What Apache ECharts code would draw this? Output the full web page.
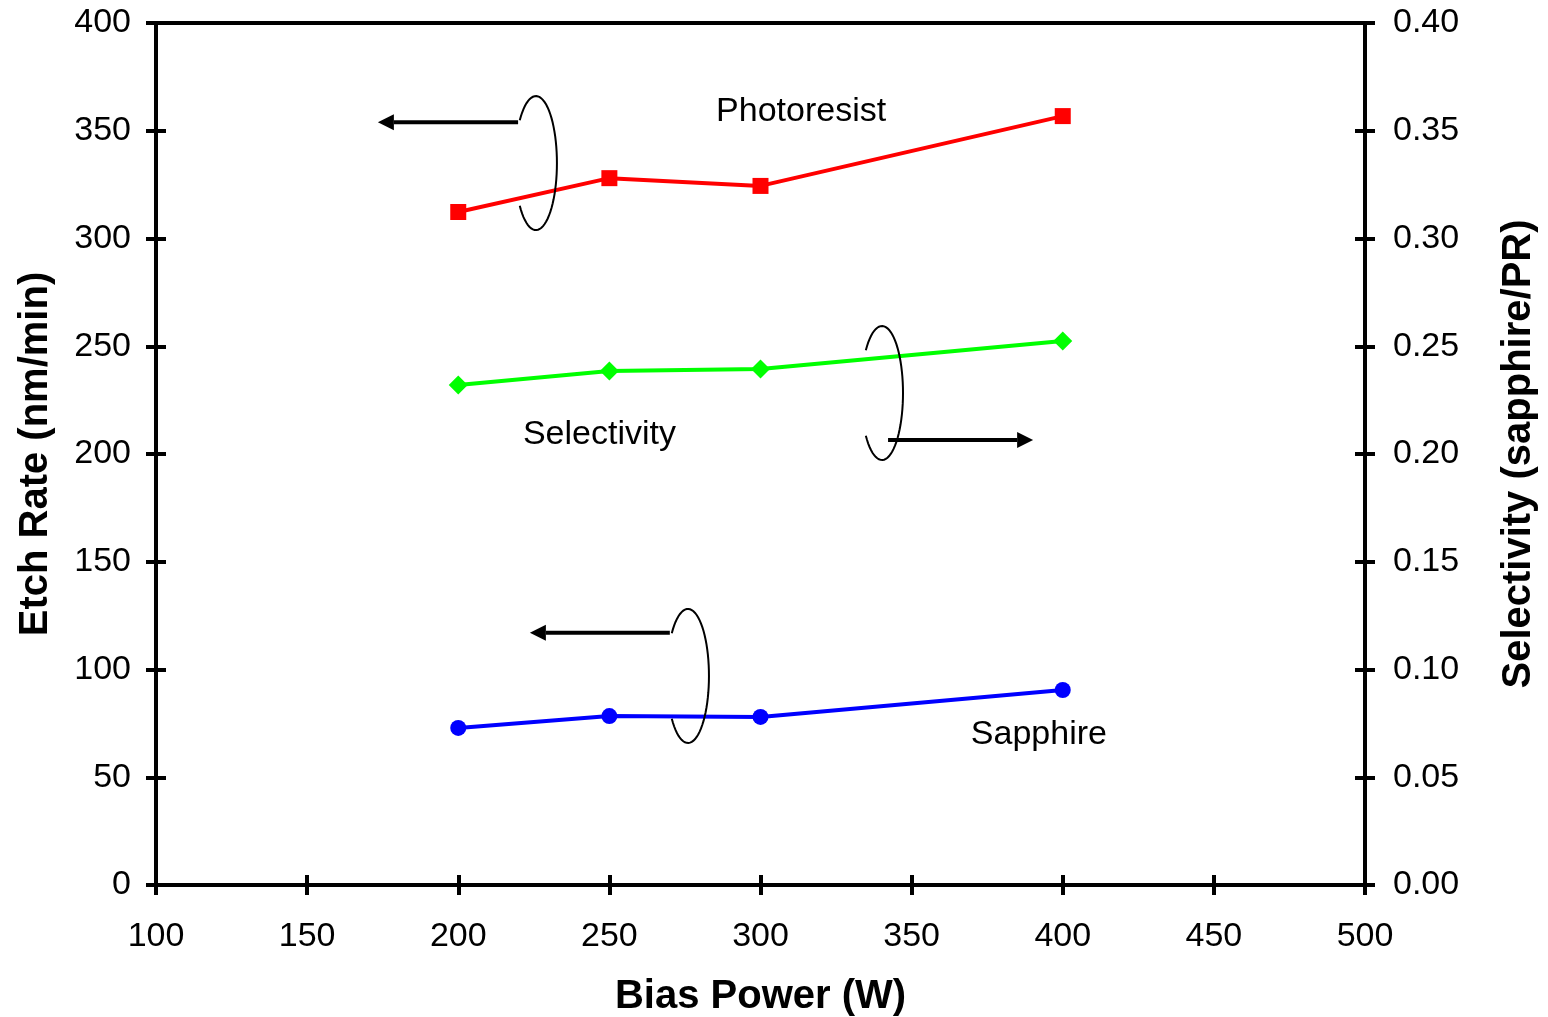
<!DOCTYPE html>
<html>
<head>
<meta charset="utf-8">
<script src="https://cdn.jsdelivr.net/npm/echarts@6/dist/echarts.min.js"></script>
<style>
  html, body { margin: 0; padding: 0; background: #fff; }
  #chart { width: 1548px; height: 1017px; }
</style>
</head>
<body>
<div id="chart"></div>
<script>
// bias power (W)
var biasPower = [200, 250, 300, 400];
// etch rates (nm/min), left axis
var photoresist = [312.3, 328.0, 324.4, 356.8];
var sapphire = [72.9, 78.4, 78.0, 90.5];
// selectivity (sapphire/PR), right axis
var selectivity = [0.232, 0.2385, 0.2394, 0.2524];

// annotations (data units of the left axis)
var labelTexts = ['Photoresist', 'Selectivity', 'Sapphire'];
var labelPos = [[285.3, 358.7], [221.4, 208.8], [369.6, 69.6]];
var bracketCenters = [[225.7, 335], [340.2, 228.3], [276, 97]];
var arrowFrom = [[219.8, 354], [342.2, 206.5], [270, 117]];
var arrowTo = [[173.4, 354], [390.2, 206.5], [223.7, 117]];

var FONT = '"Liberation Sans", Arial, sans-serif';

function pairs(xs, ys) {
    return xs.map(function (x, i) { return [x, ys[i]]; });
}

var chart = echarts.init(document.getElementById('chart'));

function renderNote(params, api) {
    var i = params.dataIndex;
    var c = api.coord(bracketCenters[i]);
    var rx = 21, ry = 67;
    var pts = [];
    for (var k = 0; k <= 60; k++) {
        var t = -2.45 + 4.9 * k / 60;
        pts.push([c[0] + rx * Math.cos(t), c[1] + ry * Math.sin(t)]);
    }
    var a = api.coord(arrowFrom[i]);
    var b = api.coord(arrowTo[i]);
    var dir = b[0] > a[0] ? 1 : -1;
    var head = 16, half = 8;
    var lp = api.coord(labelPos[i]);
    return {
        type: 'group',
        children: [
            { type: 'polyline', shape: { points: pts }, style: { stroke: '#000', lineWidth: 2, fill: null } },
            { type: 'line', shape: { x1: a[0], y1: a[1], x2: b[0] - dir * head, y2: b[1] }, style: { stroke: '#000', lineWidth: 4 } },
            { type: 'polygon', shape: { points: [[b[0], b[1]], [b[0] - dir * head, b[1] - half], [b[0] - dir * head, b[1] + half]] }, style: { fill: '#000' } },
            { type: 'text', style: { text: labelTexts[i], x: lp[0], y: lp[1], fill: '#000', font: '34px ' + FONT, align: 'left', verticalAlign: 'middle' } }
        ]
    };
}

var option = {
    animation: false,
    backgroundColor: '#fff',
    textStyle: { fontFamily: FONT },
    grid: {
        left: 156, right: 183, top: 23, bottom: 132,
        outerBoundsMode: 'none', containLabel: false,
        show: true, borderColor: '#000', borderWidth: 4, backgroundColor: 'transparent'
    },
    xAxis: [{
        type: 'value', min: 100, max: 500, interval: 50,
        name: 'Bias Power (W)', nameLocation: 'middle', nameGap: 92,
        nameTextStyle: { fontSize: 40, fontWeight: 'bold', color: '#000', fontFamily: FONT },
        axisLine: { lineStyle: { color: '#000', width: 4 } },
        axisTick: { length: 10, lineStyle: { color: '#000', width: 4 } },
        axisLabel: { fontSize: 34, color: '#000', margin: 35, fontFamily: FONT },
        splitLine: { show: false }
    }, {
        type: 'value', min: 100, max: 500, interval: 50, position: 'bottom',
        axisLine: { show: false },
        axisTick: { inside: true, length: 10, lineStyle: { color: '#000', width: 4 } },
        axisLabel: { show: false }, splitLine: { show: false }
    }],
    yAxis: [{
        type: 'value', min: 0, max: 400, interval: 50, position: 'left',
        name: 'Etch Rate (nm/min)', nameLocation: 'middle', nameGap: 100,
        nameTextStyle: { fontSize: 40, fontWeight: 'bold', color: '#000', fontFamily: FONT },
        axisLine: { show: true, lineStyle: { color: '#000', width: 4 } },
        axisTick: { length: 10, lineStyle: { color: '#000', width: 4 } },
        axisLabel: { fontSize: 34, color: '#000', margin: 25, fontFamily: FONT },
        splitLine: { show: false }
    }, {
        type: 'value', min: 0, max: 0.4, interval: 0.05, position: 'right',
        name: 'Selectivity (sapphire/PR)', nameLocation: 'middle', nameGap: 134, nameRotate: 90,
        nameTextStyle: { fontSize: 40, fontWeight: 'bold', color: '#000', fontFamily: FONT },
        axisLine: { show: true, lineStyle: { color: '#000', width: 4 } },
        axisTick: { length: 10, lineStyle: { color: '#000', width: 4 } },
        axisLabel: { fontSize: 34, color: '#000', margin: 28, fontFamily: FONT,
            formatter: function (v) { return v.toFixed(2); } },
        splitLine: { show: false }
    }, {
        type: 'value', min: 0, max: 400, interval: 50, position: 'left',
        axisLine: { show: false },
        axisTick: { inside: true, length: 10, lineStyle: { color: '#000', width: 4 } },
        axisLabel: { show: false }, splitLine: { show: false }
    }, {
        type: 'value', min: 0, max: 0.4, interval: 0.05, position: 'right',
        axisLine: { show: false },
        axisTick: { inside: true, length: 10, lineStyle: { color: '#000', width: 4 } },
        axisLabel: { show: false }, splitLine: { show: false }
    }],
    series: [{
        name: 'Photoresist', type: 'line', yAxisIndex: 0,
        data: pairs(biasPower, photoresist),
        symbol: 'rect', symbolSize: 16,
        lineStyle: { color: '#ff0000', width: 4 }, itemStyle: { color: '#ff0000' }
    }, {
        name: 'Selectivity', type: 'line', yAxisIndex: 1,
        data: pairs(biasPower, selectivity),
        symbol: 'diamond', symbolSize: 19,
        lineStyle: { color: '#00ff00', width: 4 }, itemStyle: { color: '#00ff00' }
    }, {
        name: 'Sapphire', type: 'line', yAxisIndex: 0,
        data: pairs(biasPower, sapphire),
        symbol: 'circle', symbolSize: 16,
        lineStyle: { color: '#0000ff', width: 4 }, itemStyle: { color: '#0000ff' }
    }, {
        name: 'notes', type: 'custom', yAxisIndex: 0, clip: false, silent: true,
        data: bracketCenters,
        renderItem: renderNote,
        z: 5
    }]
};

chart.setOption(option);
</script>
</body>
</html>
